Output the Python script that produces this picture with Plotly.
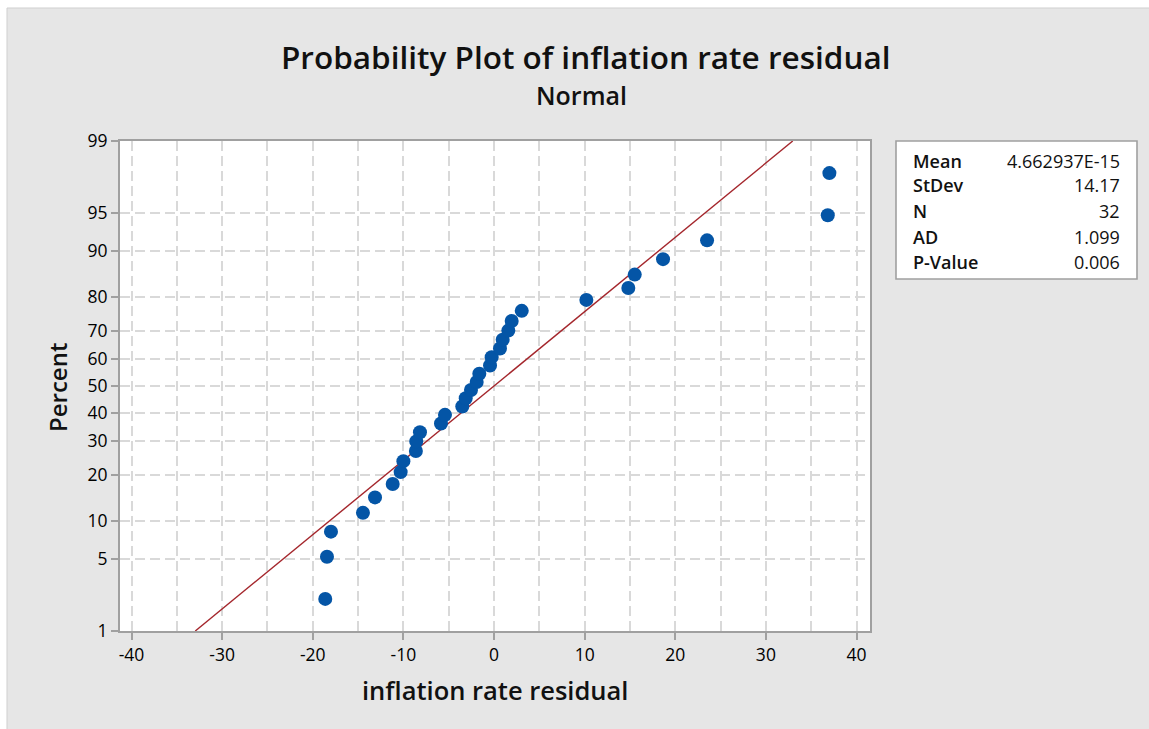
import plotly.graph_objects as go
from statistics import NormalDist

# ---- data ----
RESIDUAL = [-18.62, -18.43, -17.99, -14.46, -13.13, -11.18, -10.30, -10.00,
            -8.62, -8.58, -8.17, -5.85, -5.41, -3.50, -3.12, -2.54,
            -1.91, -1.62, -0.44, -0.26, 0.66, 0.96, 1.58, 1.95,
            3.06, 10.19, 14.82, 15.53, 18.65, 23.51, 36.83, 37.01]
PERCENT = [2.16, 5.25, 8.33, 11.42, 14.51, 17.59, 20.68, 23.77,
           26.85, 29.94, 33.02, 36.11, 39.20, 42.28, 45.37, 48.46,
           51.54, 54.63, 57.72, 60.80, 63.89, 66.98, 70.06, 73.15,
           76.23, 79.32, 82.41, 85.49, 88.58, 91.67, 94.75, 97.84]
MEAN = 4.662937e-15
STDEV = 14.17
STAT_LABELS = ["Mean", "StDev", "N", "AD", "P-Value"]
STAT_VALUES = ["4.662937E-15", "14.17", "32", "1.099", "0.006"]
Y_TICKS = [1, 5, 10, 20, 30, 40, 50, 60, 70, 80, 90, 95, 99]
X_TICKS = [-40, -30, -20, -10, 0, 10, 20, 30, 40]

nd = NormalDist()
def zq(p):
    return nd.inv_cdf(p / 100.0)

FONT = "Open Sans"
W, H = 1149, 729
L, R, T, B = 120, 870, 141, 631

def px(xp):
    return (xp - L) / (R - L)
def py(yp):
    return (B - yp) / (B - T)

fig = go.Figure()

# fitted normal line
ylo, yhi = zq(Y_TICKS[0]), zq(Y_TICKS[-1])
fig.add_trace(go.Scatter(
    x=[MEAN + STDEV * ylo, MEAN + STDEV * yhi], y=[ylo, yhi],
    mode="lines", line=dict(color="#a4262c", width=1.4),
    hoverinfo="skip", showlegend=False))

fig.add_trace(go.Scatter(
    x=RESIDUAL, y=[zq(p) for p in PERCENT], mode="markers",
    marker=dict(color="#0455a6", size=14, line=dict(width=0)),
    showlegend=False))

grid = dict(gridcolor="#d9d9d9", gridwidth=1.6, griddash="10px,5px")

fig.update_xaxes(
    range=[-41.27, 41.49], tickvals=X_TICKS, ticktext=[str(v) for v in X_TICKS],
    showgrid=True, **grid,
    minor=dict(dtick=5, tick0=0, showgrid=True, gridcolor="#d9d9d9",
               gridwidth=1.6, griddash="10px,5px", ticks=""),
    showline=True, linecolor="#a0a0a0", linewidth=2, mirror=True,
    ticks="outside", ticklen=7, tickcolor="#a0a0a0", tickwidth=1.5,
    tickfont=dict(family=FONT, size=17.5, color="#000"),
    zeroline=False)

fig.update_yaxes(
    range=[ylo, yhi], tickvals=[zq(v) for v in Y_TICKS],
    ticktext=[str(v) for v in Y_TICKS],
    showgrid=True, **grid,
    showline=True, linecolor="#a0a0a0", linewidth=2, mirror=True,
    ticks="outside", ticklen=7, tickcolor="#a0a0a0", tickwidth=1.5,
    tickfont=dict(family=FONT, size=17.5, color="#000"),
    zeroline=False)

shapes = [
    dict(type="rect", xref="paper", yref="paper", layer="below",
         x0=px(7), x1=px(W + 5), y0=py(H + 5), y1=py(8),
         fillcolor="#e6e6e6", line=dict(color="#cfcfcf", width=1)),
    dict(type="rect", xref="paper", yref="paper", layer="below",
         x0=0, x1=1, y0=0, y1=1, fillcolor="white", line=dict(width=0)),
    dict(type="rect", xref="paper", yref="paper",
         x0=px(896), x1=px(1137), y0=py(279), y1=py(141),
         fillcolor="white", line=dict(color="#a0a0a0", width=1.6)),
]

ann = [
    dict(text="Probability Plot of inflation rate residual", x=px(585), y=py(57),
         font=dict(family=FONT, size=31.5, color="#111", weight=600)),
    dict(text="Normal", x=px(581), y=py(95),
         font=dict(family=FONT, size=25, color="#111", weight=600)),
    dict(text="inflation rate residual", x=px(495), y=py(690),
         font=dict(family=FONT, size=25.5, color="#111", weight=600)),
    dict(text="Percent", x=px(57), y=py(387), textangle=-90,
         font=dict(family=FONT, size=24, color="#111", weight=600)),
]
row_y = [161, 185, 211, 237, 262]
for lab, val, yy in zip(STAT_LABELS, STAT_VALUES, row_y):
    ann.append(dict(text=lab, x=px(911), y=py(yy), xanchor="left",
                    font=dict(family=FONT, size=18, color="#111", weight=600)))
    ann.append(dict(text=val, x=px(1122), y=py(yy), xanchor="right",
                    font=dict(family=FONT, size=18, color="#111")))
for a in ann:
    a.update(xref="paper", yref="paper", showarrow=False)
    a.setdefault("xanchor", "center")
    a.setdefault("yanchor", "middle")

fig.update_layout(
    width=W, height=H, margin=dict(l=L, r=W - R, t=T, b=H - B),
    paper_bgcolor="white", plot_bgcolor="white",
    shapes=shapes, annotations=ann, showlegend=False)

fig.write_html("out.html")
